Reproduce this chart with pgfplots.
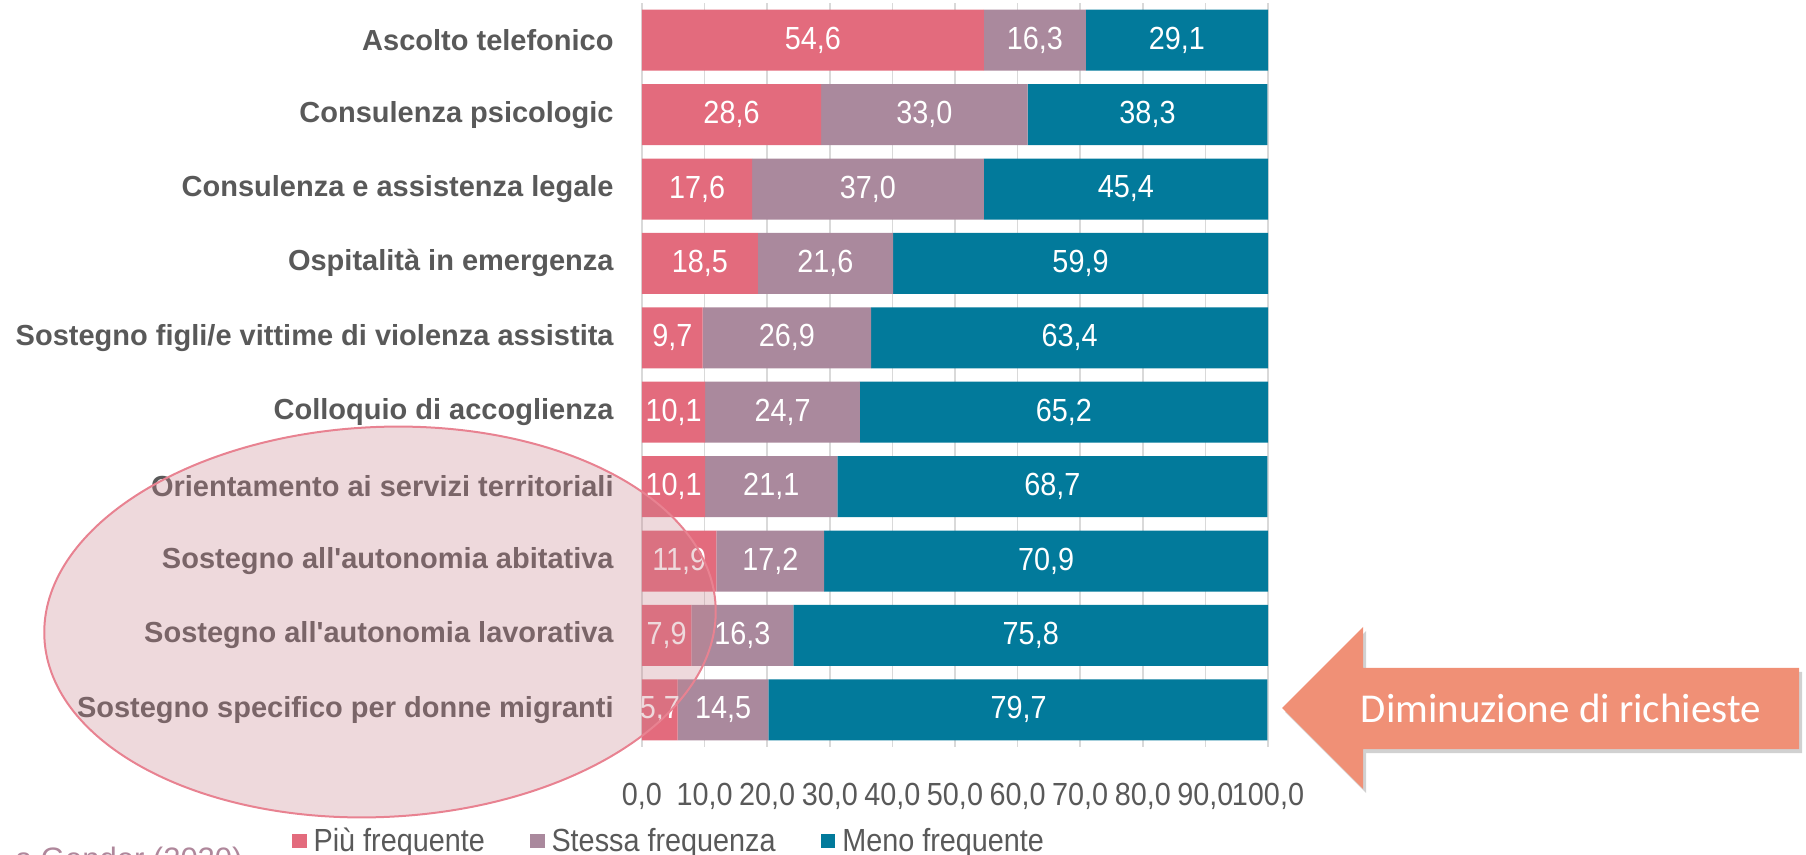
\documentclass[border=0pt]{standalone}
\usepackage{fontspec}
\setmainfont{Liberation Sans}
\newfontfamily\labfont{Liberation Sans}
\newfontfamily\narrowfont[FakeStretch=0.9]{Liberation Sans}
\newfontfamily\calib{Carlito}
\usepackage{pgfplots}
\pgfplotsset{compat=1.18}
\usepackage{pgfplotstable}
\definecolor{cpink}{RGB}{227,107,125}
\definecolor{cmauve}{RGB}{170,137,157}
\definecolor{cteal}{RGB}{2,122,155}
\definecolor{gridgray}{RGB}{217,217,217}
\definecolor{labgray}{RGB}{89,89,89}
\definecolor{arrowc}{RGB}{240,144,118}
\definecolor{ellfill}{RGB}{200,130,140}
\definecolor{ellline}{RGB}{232,130,145}
\definecolor{srccol}{RGB}{175,135,155}

\pgfplotstableread{
y piu stessa meno
0 54.6 16.3 29.1
1 28.6 33.0 38.3
2 17.6 37.0 45.4
3 18.5 21.6 59.9
4 9.7 26.9 63.4
5 10.1 24.7 65.2
6 10.1 21.1 68.7
7 11.9 17.2 70.9
8 7.9 16.3 75.8
9 5.7 14.5 79.7
}\datatable

\pgfplotstableread{
x y lab
27.3 0 54,6
62.75 0 16,3
85.45 0 29,1
14.3 1 28,6
45.1 1 33,0
80.75 1 38,3
8.8 2 17,6
36.1 2 37,0
77.3 2 45,4
9.25 3 18,5
29.3 3 21,6
70.05 3 59,9
4.85 4 9,7
23.15 4 26,9
68.3 4 63,4
5.05 5 10,1
22.45 5 24,7
67.4 5 65,2
5.05 6 10,1
20.65 6 21,1
65.55 6 68,7
5.95 7 11,9
20.5 7 17,2
64.55 7 70,9
3.95 8 7,9
16.05 8 16,3
62.1 8 75,8
2.85 9 5,7
12.95 9 14,5
60.15 9 79,7
}\labtable

\begin{document}
\begin{tikzpicture}
\begin{axis}[
  at={(321pt,-373.5pt)}, anchor=south west,
  scale only axis, width=313pt, height=372pt,
  xbar stacked, bar width=0.82,
  xmin=0, xmax=100, ymin=-0.5, ymax=9.5, y dir=reverse,
  axis x line*=bottom, axis y line*=left,
  x axis line style={draw=none},
  y axis line style={draw=gridgray, line width=0.8pt},
  xmajorgrids, grid style={draw=gridgray, line width=0.8pt},
  xtick={0,10,20,30,40,50,60,70,80,90,100},
  xticklabels={{0,0},{10,0},{20,0},{30,0},{40,0},{50,0},{60,0},{70,0},{80,0},{90,0},{100,0}},
  ytick={0,1,2,3,4,5,6,7,8,9},
  yticklabels={Ascolto telefonico,Consulenza psicologic,Consulenza e assistenza legale,Ospitalità in emergenza,Sostegno figli/e vittime di violenza assistita,Colloquio di accoglienza,Orientamento ai servizi territoriali,Sostegno all'autonomia abitativa,Sostegno all'autonomia lavorativa,Sostegno specifico per donne migranti},
  tick style={draw=none}, major tick length=0pt,
  xticklabel style={font=\narrowfont\fontsize{16pt}{16pt}\selectfont, text=labgray, anchor=base, inner sep=0pt, yshift=-29pt},
  yticklabel style={font=\labfont\bfseries\fontsize{14.5pt}{14.5pt}\selectfont, text=labgray, anchor=east, inner sep=0pt, xshift=-14pt},
  legend columns=3,
  legend cell align=left,
  legend style={draw=none, fill=none, inner sep=0pt, outer sep=0pt,
    at={(-0.5591,-0.1263)}, anchor=west,
    column sep=3.5pt,
    font=\narrowfont\fontsize{16pt}{16pt}\selectfont, text=labgray,
    nodes={inner sep=0pt},
    /tikz/every even column/.append style={column sep=22.5pt}},
  legend image code/.code={\fill[#1] (0pt,-3.6pt) rectangle (7.3pt,3.6pt);},
]
\addplot[fill=cpink, draw=none] table[x=piu, y=y]{\datatable};
\addplot[fill=cmauve, draw=none] table[x=stessa, y=y]{\datatable};
\addplot[fill=cteal, draw=none] table[x=meno, y=y]{\datatable};
\legend{Più frequente, Stessa frequenza, Meno frequente}
\end{axis}
\begin{axis}[
  at={(321pt,-373.5pt)}, anchor=south west,
  scale only axis, width=313pt, height=372pt,
  xmin=0, xmax=100, ymin=-0.5, ymax=9.5, y dir=reverse,
  hide axis, clip=false,
  nodes near coords={\pgfplotspointmeta},
  every node near coord/.append style={anchor=center, text=white, inner sep=0pt,
    font=\narrowfont\fontsize{16pt}{16pt}\selectfont},
]
\addplot[draw=none, mark=none, point meta=explicit symbolic] table[x=x, y=y, meta=lab]{\labtable};
\end{axis}
\begin{scope}[x=0.5pt, y=-0.5pt]
  \fill[ellfill, opacity=0.3, rotate around={2.7:(380,622)}] (380,622) ellipse [x radius=336, y radius=195];
  \draw[ellline, line width=1pt, rotate around={2.7:(380,622)}] (380,622) ellipse [x radius=336, y radius=195];
  \fill[black, opacity=0.18] (1285,712) -- (1366,631) -- (1366,672) -- (1802,672) -- (1802,753) -- (1366,753) -- (1366,793) -- cycle;
  \fill[arrowc] (1282,708) -- (1363,627) -- (1363,668) -- (1799,668) -- (1799,749) -- (1363,749) -- (1363,789) -- cycle;
  \node[text=white, font=\calib\fontsize{20.5pt}{20.5pt}\selectfont, inner sep=0pt] at (1561,708) {Diminuzione di richieste};
  \node[anchor=base east, text=srccol, inner sep=0pt, font=\labfont\fontsize{15.5pt}{15.5pt}\selectfont] at (243,869) {a Gender (2020)};
\end{scope}
\pgfresetboundingbox
\useasboundingbox (0,0) rectangle (903pt,-427.5pt);
\end{tikzpicture}
\end{document}
